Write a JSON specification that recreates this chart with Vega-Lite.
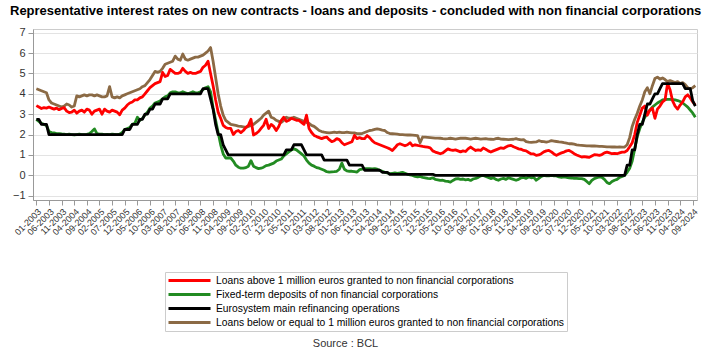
{
"$schema": "https://vega.github.io/schema/vega-lite/v6.json",
"width": 664, "height": 171,
"autosize": "none",
"padding": {"left": 33, "top": 29, "right": 17, "bottom": 161},
"background": "white",
"title": {"text": "Representative interest rates on new contracts - loans and deposits - concluded with non financial corporations", "anchor": "start", "frame": "group", "dx": -23, "offset": 9, "fontSize": 13, "fontWeight": "bold", "font": "Liberation Sans", "color": "#000000", "limit": 0},
"data": {"values": [
{"d":"01-2003","above":3.42,"dep":2.75,"mro":2.75,"below":4.25},
{"d":"02-2003","above":3.35,"dep":2.65,"mro":2.75,"below":4.2},
{"d":"03-2003","above":3.28,"dep":2.55,"mro":2.5,"below":4.15},
{"d":"04-2003","above":3.32,"dep":2.5,"mro":2.5,"below":4.1},
{"d":"05-2003","above":3.3,"dep":2.45,"mro":2.5,"below":4.05},
{"d":"06-2003","above":3.35,"dep":2.15,"mro":2,"below":3.7},
{"d":"07-2003","above":3.3,"dep":2.1,"mro":2,"below":3.55},
{"d":"08-2003","above":3.25,"dep":2.08,"mro":2,"below":3.5},
{"d":"09-2003","above":3.3,"dep":2.05,"mro":2,"below":3.45},
{"d":"10-2003","above":3.22,"dep":2.05,"mro":2,"below":3.4},
{"d":"11-2003","above":3.28,"dep":2.03,"mro":2,"below":3.35},
{"d":"12-2003","above":3.32,"dep":2.02,"mro":2,"below":3.4},
{"d":"01-2004","above":3.15,"dep":2.0,"mro":2,"below":3.5},
{"d":"02-2004","above":3.08,"dep":2.02,"mro":2,"below":3.45},
{"d":"03-2004","above":3.1,"dep":2.0,"mro":2,"below":3.35},
{"d":"04-2004","above":3.2,"dep":1.98,"mro":2,"below":3.4},
{"d":"05-2004","above":3.05,"dep":2.0,"mro":2,"below":3.9},
{"d":"06-2004","above":3.15,"dep":2.02,"mro":2,"below":3.85},
{"d":"07-2004","above":3.2,"dep":2.0,"mro":2,"below":3.9},
{"d":"08-2004","above":3.1,"dep":2.0,"mro":2,"below":3.95},
{"d":"09-2004","above":3.25,"dep":2.01,"mro":2,"below":3.9},
{"d":"10-2004","above":3.2,"dep":2.05,"mro":2,"below":3.95},
{"d":"11-2004","above":3.0,"dep":2.15,"mro":2,"below":3.95},
{"d":"12-2004","above":3.15,"dep":2.28,"mro":2,"below":3.9},
{"d":"01-2005","above":3.2,"dep":2.05,"mro":2,"below":3.95},
{"d":"02-2005","above":3.25,"dep":2.02,"mro":2,"below":3.9},
{"d":"03-2005","above":3.0,"dep":2.02,"mro":2,"below":3.85},
{"d":"04-2005","above":3.25,"dep":2.0,"mro":2,"below":3.85},
{"d":"05-2005","above":3.15,"dep":2.01,"mro":2,"below":3.9},
{"d":"06-2005","above":3.1,"dep":2.0,"mro":2,"below":4.35},
{"d":"07-2005","above":3.2,"dep":2.02,"mro":2,"below":3.85},
{"d":"08-2005","above":3.15,"dep":2.01,"mro":2,"below":3.8},
{"d":"09-2005","above":3.1,"dep":2.0,"mro":2,"below":3.85},
{"d":"10-2005","above":2.97,"dep":2.02,"mro":2,"below":3.8},
{"d":"11-2005","above":3.2,"dep":2.1,"mro":2,"below":3.9},
{"d":"12-2005","above":3.3,"dep":2.25,"mro":2.25,"below":3.95},
{"d":"01-2006","above":3.45,"dep":2.3,"mro":2.25,"below":4.0},
{"d":"02-2006","above":3.55,"dep":2.35,"mro":2.25,"below":4.05},
{"d":"03-2006","above":3.6,"dep":2.5,"mro":2.5,"below":4.1},
{"d":"04-2006","above":3.7,"dep":2.55,"mro":2.5,"below":4.15},
{"d":"05-2006","above":3.7,"dep":2.85,"mro":2.5,"below":4.2},
{"d":"06-2006","above":3.8,"dep":2.7,"mro":2.75,"below":4.25},
{"d":"07-2006","above":3.85,"dep":2.8,"mro":2.75,"below":4.35},
{"d":"08-2006","above":4.0,"dep":2.95,"mro":3,"below":4.4},
{"d":"09-2006","above":4.15,"dep":3.1,"mro":3,"below":4.55},
{"d":"10-2006","above":4.3,"dep":3.3,"mro":3.25,"below":4.7},
{"d":"11-2006","above":4.4,"dep":3.4,"mro":3.25,"below":4.9},
{"d":"12-2006","above":4.5,"dep":3.55,"mro":3.5,"below":5.1},
{"d":"01-2007","above":4.55,"dep":3.6,"mro":3.5,"below":5.05},
{"d":"02-2007","above":4.6,"dep":3.65,"mro":3.5,"below":5.1},
{"d":"03-2007","above":5.05,"dep":3.75,"mro":3.75,"below":5.25},
{"d":"04-2007","above":4.85,"dep":3.85,"mro":3.75,"below":5.45},
{"d":"05-2007","above":4.9,"dep":3.9,"mro":3.75,"below":5.5},
{"d":"06-2007","above":5.2,"dep":4.05,"mro":4,"below":5.55},
{"d":"07-2007","above":5.1,"dep":4.1,"mro":4,"below":5.6},
{"d":"08-2007","above":5.0,"dep":4.1,"mro":4,"below":5.85},
{"d":"09-2007","above":5.0,"dep":4.05,"mro":4,"below":5.7},
{"d":"10-2007","above":5.05,"dep":4.05,"mro":4,"below":5.65},
{"d":"11-2007","above":5.25,"dep":4.1,"mro":4,"below":5.95},
{"d":"12-2007","above":5.1,"dep":4.05,"mro":4,"below":5.7},
{"d":"01-2008","above":5.0,"dep":4.0,"mro":4,"below":5.65},
{"d":"02-2008","above":5.05,"dep":4.05,"mro":4,"below":5.7},
{"d":"03-2008","above":5.0,"dep":4.1,"mro":4,"below":5.75},
{"d":"04-2008","above":5.0,"dep":4.05,"mro":4,"below":5.8},
{"d":"05-2008","above":5.05,"dep":4.05,"mro":4,"below":5.8},
{"d":"06-2008","above":5.1,"dep":4.1,"mro":4,"below":5.85},
{"d":"07-2008","above":5.3,"dep":4.2,"mro":4.25,"below":5.9},
{"d":"08-2008","above":5.4,"dep":4.3,"mro":4.25,"below":6.0},
{"d":"09-2008","above":5.6,"dep":4.35,"mro":4.25,"below":6.1},
{"d":"10-2008","above":5.0,"dep":4.1,"mro":3.75,"below":6.27},
{"d":"11-2008","above":4.4,"dep":3.3,"mro":3.25,"below":5.6},
{"d":"12-2008","above":3.7,"dep":2.7,"mro":2.5,"below":4.8},
{"d":"01-2009","above":3.1,"dep":2.1,"mro":2,"below":4.0},
{"d":"02-2009","above":2.8,"dep":1.5,"mro":2,"below":3.4},
{"d":"03-2009","above":2.45,"dep":1.05,"mro":1.5,"below":2.95},
{"d":"04-2009","above":2.35,"dep":0.85,"mro":1.25,"below":2.7},
{"d":"05-2009","above":2.3,"dep":0.85,"mro":1,"below":2.6},
{"d":"06-2009","above":2.3,"dep":0.85,"mro":1,"below":2.5},
{"d":"07-2009","above":2.0,"dep":0.7,"mro":1,"below":2.48},
{"d":"08-2009","above":2.15,"dep":0.5,"mro":1,"below":2.45},
{"d":"09-2009","above":2.2,"dep":0.4,"mro":1,"below":2.42},
{"d":"10-2009","above":2.1,"dep":0.35,"mro":1,"below":2.4},
{"d":"11-2009","above":2.2,"dep":0.35,"mro":1,"below":2.38},
{"d":"12-2009","above":2.35,"dep":0.38,"mro":1,"below":2.35},
{"d":"01-2010","above":2.45,"dep":0.45,"mro":1,"below":2.4},
{"d":"02-2010","above":2.75,"dep":0.72,"mro":1,"below":2.45},
{"d":"03-2010","above":1.98,"dep":0.45,"mro":1,"below":2.5},
{"d":"04-2010","above":2.05,"dep":0.38,"mro":1,"below":2.6},
{"d":"05-2010","above":2.15,"dep":0.33,"mro":1,"below":2.7},
{"d":"06-2010","above":2.3,"dep":0.35,"mro":1,"below":2.8},
{"d":"07-2010","above":2.45,"dep":0.4,"mro":1,"below":2.95},
{"d":"08-2010","above":2.75,"dep":0.48,"mro":1,"below":3.05},
{"d":"09-2010","above":2.3,"dep":0.5,"mro":1,"below":3.15},
{"d":"10-2010","above":2.5,"dep":0.55,"mro":1,"below":2.85},
{"d":"11-2010","above":2.4,"dep":0.6,"mro":1,"below":2.8},
{"d":"12-2010","above":2.2,"dep":0.7,"mro":1,"below":2.7},
{"d":"01-2011","above":2.4,"dep":0.75,"mro":1,"below":2.65},
{"d":"02-2011","above":2.7,"dep":0.8,"mro":1,"below":2.6},
{"d":"03-2011","above":2.85,"dep":0.95,"mro":1,"below":2.7},
{"d":"04-2011","above":2.65,"dep":1.05,"mro":1.25,"below":2.85},
{"d":"05-2011","above":2.7,"dep":1.15,"mro":1.25,"below":2.8},
{"d":"06-2011","above":2.8,"dep":1.25,"mro":1.25,"below":2.8},
{"d":"07-2011","above":2.75,"dep":1.3,"mro":1.5,"below":2.85},
{"d":"08-2011","above":2.7,"dep":1.25,"mro":1.5,"below":2.8},
{"d":"09-2011","above":2.7,"dep":1.15,"mro":1.5,"below":2.75},
{"d":"10-2011","above":2.6,"dep":1.05,"mro":1.5,"below":2.7},
{"d":"11-2011","above":2.5,"dep":0.95,"mro":1.25,"below":2.65},
{"d":"12-2011","above":2.95,"dep":0.75,"mro":1,"below":2.6},
{"d":"01-2012","above":2.3,"dep":0.6,"mro":1,"below":2.55},
{"d":"02-2012","above":2.1,"dep":0.5,"mro":1,"below":2.45},
{"d":"03-2012","above":1.96,"dep":0.45,"mro":1,"below":2.4},
{"d":"04-2012","above":1.9,"dep":0.38,"mro":1,"below":2.3},
{"d":"05-2012","above":1.85,"dep":0.35,"mro":1,"below":2.2},
{"d":"06-2012","above":1.8,"dep":0.3,"mro":1,"below":2.15},
{"d":"07-2012","above":1.85,"dep":0.25,"mro":0.75,"below":2.12},
{"d":"08-2012","above":1.88,"dep":0.18,"mro":0.75,"below":2.1},
{"d":"09-2012","above":1.75,"dep":0.16,"mro":0.75,"below":2.08},
{"d":"10-2012","above":1.65,"dep":0.17,"mro":0.75,"below":2.1},
{"d":"11-2012","above":1.7,"dep":0.18,"mro":0.75,"below":2.12},
{"d":"12-2012","above":1.8,"dep":0.2,"mro":0.75,"below":2.1},
{"d":"01-2013","above":1.75,"dep":0.3,"mro":0.75,"below":2.12},
{"d":"02-2013","above":1.6,"dep":0.6,"mro":0.75,"below":2.1},
{"d":"03-2013","above":1.5,"dep":0.3,"mro":0.75,"below":2.1},
{"d":"04-2013","above":1.55,"dep":0.22,"mro":0.75,"below":2.12},
{"d":"05-2013","above":1.6,"dep":0.2,"mro":0.5,"below":2.1},
{"d":"06-2013","above":1.65,"dep":0.2,"mro":0.5,"below":2.08},
{"d":"07-2013","above":1.96,"dep":0.18,"mro":0.5,"below":2.08},
{"d":"08-2013","above":1.8,"dep":0.16,"mro":0.5,"below":2.05},
{"d":"09-2013","above":1.85,"dep":0.28,"mro":0.5,"below":2.04},
{"d":"10-2013","above":1.8,"dep":0.3,"mro":0.5,"below":2.05},
{"d":"11-2013","above":1.8,"dep":0.33,"mro":0.25,"below":2.1},
{"d":"12-2013","above":1.95,"dep":0.33,"mro":0.25,"below":2.15},
{"d":"01-2014","above":1.85,"dep":0.33,"mro":0.25,"below":2.2},
{"d":"02-2014","above":1.7,"dep":0.32,"mro":0.25,"below":2.22},
{"d":"03-2014","above":1.6,"dep":0.33,"mro":0.25,"below":2.25},
{"d":"04-2014","above":1.55,"dep":0.3,"mro":0.25,"below":2.28},
{"d":"05-2014","above":1.5,"dep":0.25,"mro":0.25,"below":2.25},
{"d":"06-2014","above":1.45,"dep":0.2,"mro":0.15,"below":2.22},
{"d":"07-2014","above":1.4,"dep":0.15,"mro":0.15,"below":2.2},
{"d":"08-2014","above":1.35,"dep":0.12,"mro":0.15,"below":2.1},
{"d":"09-2014","above":1.3,"dep":0.08,"mro":0.05,"below":2.05},
{"d":"10-2014","above":1.22,"dep":0.1,"mro":0.05,"below":2.04},
{"d":"11-2014","above":1.35,"dep":0.12,"mro":0.05,"below":2.03},
{"d":"12-2014","above":1.5,"dep":0.1,"mro":0.05,"below":2.02},
{"d":"01-2015","above":1.55,"dep":0.12,"mro":0.05,"below":2.0},
{"d":"02-2015","above":1.5,"dep":0.15,"mro":0.05,"below":2.0},
{"d":"03-2015","above":1.45,"dep":0.1,"mro":0.05,"below":1.99},
{"d":"04-2015","above":1.5,"dep":0.05,"mro":0.05,"below":1.98},
{"d":"05-2015","above":1.6,"dep":0.02,"mro":0.05,"below":1.98},
{"d":"06-2015","above":1.45,"dep":0.0,"mro":0.05,"below":1.97},
{"d":"07-2015","above":1.5,"dep":-0.05,"mro":0.05,"below":1.96},
{"d":"08-2015","above":1.47,"dep":-0.08,"mro":0.05,"below":1.95},
{"d":"09-2015","above":1.45,"dep":-0.05,"mro":0.05,"below":1.6},
{"d":"10-2015","above":1.42,"dep":-0.1,"mro":0.05,"below":1.88},
{"d":"11-2015","above":1.4,"dep":-0.12,"mro":0.05,"below":1.87},
{"d":"12-2015","above":1.38,"dep":-0.15,"mro":0.05,"below":1.86},
{"d":"01-2016","above":1.35,"dep":-0.16,"mro":0.05,"below":1.85},
{"d":"02-2016","above":1.2,"dep":-0.12,"mro":0.05,"below":1.84},
{"d":"03-2016","above":1.14,"dep":-0.2,"mro":0,"below":1.83},
{"d":"04-2016","above":1.1,"dep":-0.22,"mro":0,"below":1.83},
{"d":"05-2016","above":1.06,"dep":-0.25,"mro":0,"below":1.82},
{"d":"06-2016","above":1.1,"dep":-0.24,"mro":0,"below":1.8},
{"d":"07-2016","above":1.2,"dep":-0.28,"mro":0,"below":1.79},
{"d":"08-2016","above":1.3,"dep":-0.3,"mro":0,"below":1.8},
{"d":"09-2016","above":1.25,"dep":-0.33,"mro":0,"below":1.82},
{"d":"10-2016","above":1.22,"dep":-0.25,"mro":0,"below":1.8},
{"d":"11-2016","above":1.25,"dep":-0.18,"mro":0,"below":1.78},
{"d":"12-2016","above":1.2,"dep":-0.16,"mro":0,"below":1.8},
{"d":"01-2017","above":1.15,"dep":-0.2,"mro":0,"below":1.82},
{"d":"02-2017","above":1.2,"dep":-0.18,"mro":0,"below":1.83},
{"d":"03-2017","above":1.17,"dep":-0.22,"mro":0,"below":1.82},
{"d":"04-2017","above":1.3,"dep":-0.2,"mro":0,"below":1.8},
{"d":"05-2017","above":1.39,"dep":-0.25,"mro":0,"below":1.78},
{"d":"06-2017","above":1.3,"dep":-0.18,"mro":0,"below":1.8},
{"d":"07-2017","above":1.22,"dep":-0.15,"mro":0,"below":1.82},
{"d":"08-2017","above":1.25,"dep":-0.1,"mro":0,"below":1.8},
{"d":"09-2017","above":1.22,"dep":-0.02,"mro":0,"below":1.78},
{"d":"10-2017","above":1.34,"dep":0.0,"mro":0,"below":1.79},
{"d":"11-2017","above":1.28,"dep":-0.05,"mro":0,"below":1.8},
{"d":"12-2017","above":1.2,"dep":-0.1,"mro":0,"below":1.78},
{"d":"01-2018","above":1.14,"dep":-0.16,"mro":0,"below":1.77},
{"d":"02-2018","above":1.2,"dep":-0.12,"mro":0,"below":1.76},
{"d":"03-2018","above":1.25,"dep":-0.2,"mro":0,"below":1.8},
{"d":"04-2018","above":1.3,"dep":-0.24,"mro":0,"below":1.82},
{"d":"05-2018","above":1.35,"dep":-0.18,"mro":0,"below":1.78},
{"d":"06-2018","above":1.32,"dep":-0.15,"mro":0,"below":1.77},
{"d":"07-2018","above":1.39,"dep":-0.2,"mro":0,"below":1.76},
{"d":"08-2018","above":1.45,"dep":-0.12,"mro":0,"below":1.75},
{"d":"09-2018","above":1.47,"dep":-0.16,"mro":0,"below":1.76},
{"d":"10-2018","above":1.4,"dep":-0.2,"mro":0,"below":1.77},
{"d":"11-2018","above":1.35,"dep":-0.24,"mro":0,"below":1.8},
{"d":"12-2018","above":1.3,"dep":-0.2,"mro":0,"below":1.76},
{"d":"01-2019","above":1.28,"dep":-0.12,"mro":0,"below":1.74},
{"d":"02-2019","above":1.22,"dep":-0.1,"mro":0,"below":1.75},
{"d":"03-2019","above":1.2,"dep":-0.15,"mro":0,"below":1.65},
{"d":"04-2019","above":1.12,"dep":-0.08,"mro":0,"below":1.63},
{"d":"05-2019","above":1.05,"dep":-0.12,"mro":0,"below":1.62},
{"d":"06-2019","above":1.05,"dep":-0.1,"mro":0,"below":1.63},
{"d":"07-2019","above":0.98,"dep":-0.24,"mro":0,"below":1.64},
{"d":"08-2019","above":1.0,"dep":-0.15,"mro":0,"below":1.7},
{"d":"09-2019","above":1.06,"dep":-0.05,"mro":0,"below":1.66},
{"d":"10-2019","above":1.15,"dep":0.0,"mro":0,"below":1.65},
{"d":"11-2019","above":1.2,"dep":-0.02,"mro":0,"below":1.63},
{"d":"12-2019","above":1.22,"dep":-0.03,"mro":0,"below":1.66},
{"d":"01-2020","above":1.15,"dep":0.0,"mro":0,"below":1.7},
{"d":"02-2020","above":1.05,"dep":-0.02,"mro":0,"below":1.68},
{"d":"03-2020","above":0.98,"dep":-0.03,"mro":0,"below":1.66},
{"d":"04-2020","above":1.05,"dep":-0.08,"mro":0,"below":1.64},
{"d":"05-2020","above":1.1,"dep":-0.1,"mro":0,"below":1.63},
{"d":"06-2020","above":1.14,"dep":-0.08,"mro":0,"below":1.6},
{"d":"07-2020","above":1.2,"dep":-0.1,"mro":0,"below":1.58},
{"d":"08-2020","above":1.22,"dep":-0.12,"mro":0,"below":1.55},
{"d":"09-2020","above":1.15,"dep":-0.13,"mro":0,"below":1.55},
{"d":"10-2020","above":1.06,"dep":-0.15,"mro":0,"below":1.53},
{"d":"11-2020","above":1.0,"dep":-0.15,"mro":0,"below":1.5},
{"d":"12-2020","above":0.95,"dep":-0.16,"mro":0,"below":1.48},
{"d":"01-2021","above":0.9,"dep":-0.16,"mro":0,"below":1.47},
{"d":"02-2021","above":0.92,"dep":-0.2,"mro":0,"below":1.46},
{"d":"03-2021","above":0.9,"dep":-0.3,"mro":0,"below":1.45},
{"d":"04-2021","above":0.88,"dep":-0.41,"mro":0,"below":1.45},
{"d":"05-2021","above":0.95,"dep":-0.25,"mro":0,"below":1.44},
{"d":"06-2021","above":1.01,"dep":-0.16,"mro":0,"below":1.44},
{"d":"07-2021","above":1.0,"dep":-0.12,"mro":0,"below":1.43},
{"d":"08-2021","above":0.98,"dep":-0.08,"mro":0,"below":1.42},
{"d":"09-2021","above":1.02,"dep":-0.1,"mro":0,"below":1.42},
{"d":"10-2021","above":1.1,"dep":-0.2,"mro":0,"below":1.41},
{"d":"11-2021","above":1.14,"dep":-0.35,"mro":0,"below":1.4},
{"d":"12-2021","above":1.1,"dep":-0.41,"mro":0,"below":1.4},
{"d":"01-2022","above":1.06,"dep":-0.3,"mro":0,"below":1.39},
{"d":"02-2022","above":1.08,"dep":-0.24,"mro":0,"below":1.4},
{"d":"03-2022","above":1.06,"dep":-0.2,"mro":0,"below":1.38},
{"d":"04-2022","above":1.1,"dep":-0.1,"mro":0,"below":1.39},
{"d":"05-2022","above":1.14,"dep":-0.05,"mro":0,"below":1.38},
{"d":"06-2022","above":1.14,"dep":0.0,"mro":0,"below":1.39},
{"d":"07-2022","above":1.22,"dep":0.15,"mro":0.5,"below":1.5},
{"d":"08-2022","above":1.4,"dep":0.35,"mro":0.5,"below":1.85},
{"d":"09-2022","above":1.6,"dep":0.7,"mro":1.25,"below":2.4},
{"d":"10-2022","above":2.0,"dep":1.3,"mro":1.25,"below":2.75},
{"d":"11-2022","above":2.6,"dep":1.9,"mro":2,"below":3.05},
{"d":"12-2022","above":2.95,"dep":2.3,"mro":2.5,"below":3.4},
{"d":"01-2023","above":3.3,"dep":2.6,"mro":2.5,"below":3.7},
{"d":"02-2023","above":3.4,"dep":2.85,"mro":3,"below":4.1},
{"d":"03-2023","above":2.95,"dep":3.05,"mro":3.5,"below":4.3},
{"d":"04-2023","above":3.2,"dep":3.2,"mro":3.5,"below":4.0},
{"d":"05-2023","above":3.3,"dep":3.35,"mro":3.75,"below":4.4},
{"d":"06-2023","above":2.8,"dep":3.45,"mro":4,"below":4.75},
{"d":"07-2023","above":3.25,"dep":3.55,"mro":4,"below":4.82},
{"d":"08-2023","above":3.4,"dep":3.62,"mro":4.25,"below":4.72},
{"d":"09-2023","above":3.6,"dep":3.7,"mro":4.5,"below":4.78},
{"d":"10-2023","above":3.7,"dep":3.72,"mro":4.5,"below":4.7},
{"d":"11-2023","above":4.5,"dep":3.73,"mro":4.5,"below":4.6},
{"d":"12-2023","above":4.2,"dep":3.73,"mro":4.5,"below":4.65},
{"d":"01-2024","above":3.65,"dep":3.72,"mro":4.5,"below":4.6},
{"d":"02-2024","above":3.4,"dep":3.7,"mro":4.5,"below":4.55},
{"d":"03-2024","above":3.25,"dep":3.67,"mro":4.5,"below":4.6},
{"d":"04-2024","above":3.45,"dep":3.62,"mro":4.5,"below":4.5},
{"d":"05-2024","above":3.6,"dep":3.55,"mro":4.5,"below":4.55},
{"d":"06-2024","above":3.85,"dep":3.45,"mro":4.25,"below":4.45},
{"d":"07-2024","above":3.95,"dep":3.35,"mro":4.25,"below":4.3},
{"d":"08-2024","above":3.8,"dep":3.2,"mro":4.25,"below":4.25},
{"d":"09-2024","above":3.6,"dep":3.05,"mro":3.65,"below":4.3},
{"d":"10-2024","above":3.45,"dep":2.85,"mro":3.4,"below":4.4}
]},
"transform": [{"fold": ["dep", "below", "above", "mro"], "as": ["series", "value"]}],
"mark": {"type": "line", "strokeWidth": 2.8, "strokeJoin": "round"},
"encoding": {
  "x": {"field": "d", "type": "ordinal", "sort": null,
    "scale": {"type": "point", "padding": 2.1, "align": 0.667},
    "axis": {"values": ["01-2003","06-2003","11-2003","04-2004","09-2004","02-2005","07-2005","12-2005","05-2006","10-2006","03-2007","08-2007","01-2008","06-2008","11-2008","04-2009","09-2009","02-2010","07-2010","12-2010","05-2011","10-2011","03-2012","08-2012","01-2013","06-2013","11-2013","04-2014","09-2014","02-2015","07-2015","12-2015","05-2016","10-2016","03-2017","08-2017","01-2018","06-2018","11-2018","04-2019","09-2019","02-2020","07-2020","12-2020","05-2021","10-2021","03-2022","08-2022","01-2023","06-2023","11-2023","04-2024","09-2024"],
      "labelAngle": -45, "labelFontSize": 9, "labelColor": "#333333", "tickColor": "#999999", "domainColor": "#999999", "grid": false, "tickSize": 5, "labelPadding": 2,
      "title": "Source : BCL", "titleFontSize": 11, "titleFontWeight": "normal", "titleColor": "#333333", "titleX": 312, "titleY": 143, "titleBaseline": "middle", "titleAlign": "center"}},
  "y": {"field": "value", "type": "quantitative",
    "scale": {"domain": [-1.21, 7.18], "nice": false, "zero": false},
    "axis": {"values": [-1, 0, 1, 2, 3, 4, 5, 6, 7], "title": null, "labelFontSize": 11, "labelColor": "#333333", "gridColor": "#e3e3e3", "domainColor": "#999999", "tickColor": "#999999", "tickSize": 5, "labelPadding": 3}},
  "color": {"field": "series", "type": "nominal",
    "scale": {"domain": ["above", "dep", "mro", "below"], "range": ["#ff0000", "#228b22", "#000000", "#8b6a45"]},
    "legend": {"orient": "none", "legendX": 132, "legendY": 243, "title": null, "symbolType": "stroke", "symbolSize": 1764, "symbolStrokeWidth": 3, "clipHeight": 13, "rowPadding": 1, "padding": 2, "strokeColor": "#cccccc", "labelFontSize": 10.3, "labelOffset": 4, "labelLimit": 0, "labelColor": "#000000",
      "labelExpr": "datum.value === 'above' ? 'Loans above 1 million euros granted to non financial corporations' : datum.value === 'dep' ? 'Fixed-term deposits of non financial corporations' : datum.value === 'mro' ? 'Eurosystem main refinancing operations' : 'Loans below or equal to 1 million euros granted to non financial corporations'"}}
},
"config": {"view": {"stroke": "#cccccc"}, "font": "Liberation Sans"}
}
